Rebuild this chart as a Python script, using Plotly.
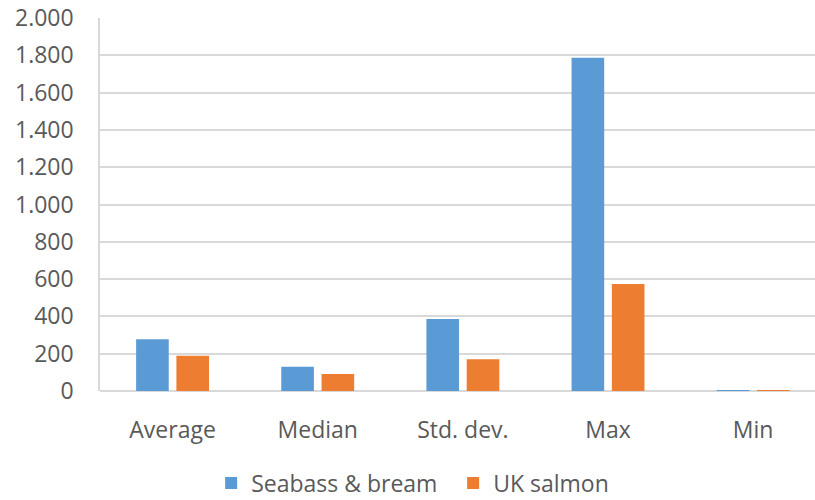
import plotly.graph_objects as go

# Summary statistics per species group
categories = ["Average", "Median", "Std. dev.", "Max", "Min"]
seabass_bream = [277, 130, 386, 1787, 3]
uk_salmon = [189, 91, 170, 574, 2]

series_names = ["Seabass & bream", "UK salmon"]
colors = ["#5B9BD5", "#ED7D31"]
y_ticks = [0, 200, 400, 600, 800, 1000, 1200, 1400, 1600, 1800, 2000]

FONT = "Open Sans"
TEXT = "#595959"
GRID = "#D9D9D9"

fig = go.Figure()
for name, vals, col in zip(series_names, [seabass_bream, uk_salmon], colors):
    fig.add_trace(go.Bar(
        x=categories, y=vals, name=name,
        marker=dict(color=col, line=dict(width=0)),
    ))

fig.update_layout(
    width=815, height=500,
    margin=dict(l=100, r=0, t=18, b=109, autoexpand=False),
    paper_bgcolor="white", plot_bgcolor="white",
    separators=",.",
    barmode="group", bargap=0.445, bargroupgap=0.19,
    font=dict(family=FONT, size=23, color=TEXT),
    showlegend=True,
    legend=dict(
        orientation="h",
        xref="container", x=0.556, xanchor="center",
        yref="container", y=0.034, yanchor="middle",
        font=dict(family=FONT, size=23, color=TEXT),
        traceorder="normal", entrywidth=197,
    ),
)
fig.update_xaxes(
    range=[-0.5, 4.426],
    showline=False, showgrid=False, zeroline=False,
    ticks="", ticklabelstandoff=23,
    tickfont=dict(family=FONT, size=23, color=TEXT),
)
fig.update_yaxes(
    range=[0, 2000], tickvals=y_ticks, tickformat=",.0f",
    showgrid=True, gridcolor=GRID, gridwidth=1.5,
    showline=True, linecolor=GRID, linewidth=1.5,
    zeroline=True, zerolinecolor=GRID, zerolinewidth=1.5,
    ticks="", ticklabelstandoff=20,
    tickfont=dict(family=FONT, size=23, color=TEXT),
)

fig.write_html("out.html")
